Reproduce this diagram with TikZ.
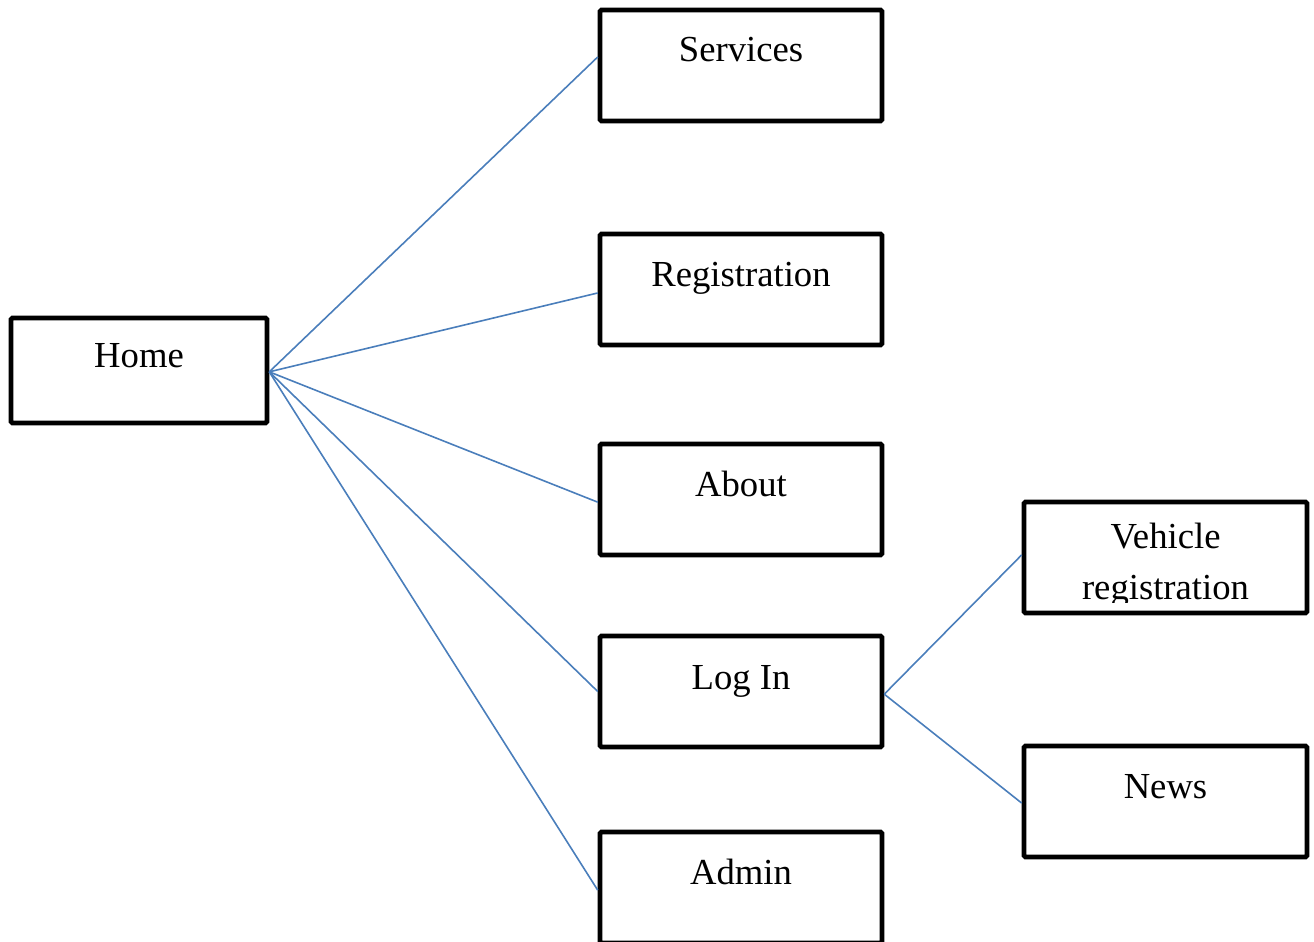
\documentclass[tikz,border=0pt]{standalone}
\usepackage{fontspec}
\setmainfont{Liberation Serif}
\definecolor{linkblue}{HTML}{4A7EBB}
\tikzset{
  box/.style={draw=black, line width=3.4pt, rounded corners=1pt, inner sep=0pt, minimum width=211.5pt, minimum height=83.25pt},
  homebox/.style={box, minimum width=192pt, minimum height=78.75pt},
  widebox/.style={box, minimum width=212.25pt},
  lbl/.style={anchor=base, inner sep=0pt, font=\fontsize{27.5}{33}\selectfont},
  link/.style={draw=linkblue, line width=1.2pt}
}
\begin{document}
\begin{tikzpicture}[x=0.75pt, y=-0.75pt]
\useasboundingbox (0,0) rectangle (1314,942);
% boxes
\node[homebox] (home) at (139,370.5) {};
\node[box] (services) at (741,65.5) {};
\node[box] (registration) at (741,289.5) {};
\node[box] (about) at (741,499.5) {};
\node[box] (login) at (741,691.5) {};
\node[box] (admin) at (741,887.5) {};
\node[widebox] (vehicle) at (1165.5,557.5) {};
\node[widebox] (news) at (1165.5,801.5) {};
% labels
\node[lbl] (home-t) at (139,367) {Home};
\node[lbl] (services-t) at (741,62) {Services};
\node[lbl] (registration-t) at (741,286) {Registration};
\node[lbl] (about-t) at (741,496) {About};
\node[lbl] (login-t) at (741,689) {Log In};
\node[lbl] (admin-t) at (741,884) {Admin};
\node[lbl] (vehicle-t) at (1165.5,548) {Vehicle};
\begin{scope}
  \clip (1026,504) rectangle (1305,602);
  \node[lbl] (vehicle-t2) at (1165.5,599) {registration};
\end{scope}
\node[lbl] (news-t) at (1165.5,798) {News};
% connectors
\coordinate (hub) at ([yshift=-1pt]home.east);
\draw[link] (hub) -- ([yshift=6.4pt]services.west);
\draw[link] (hub) -- ([yshift=-2.6pt]registration.west);
\draw[link] (hub) -- ([yshift=-2pt]about.west);
\draw[link] (hub) -- (login.west);
\draw[link] (hub) -- ([yshift=-2pt]admin.west);
\coordinate (lhub) at ([yshift=-2pt]login.east);
\draw[link] (lhub) -- ([yshift=2pt]vehicle.west);
\draw[link] (lhub) -- ([yshift=-1.2pt]news.west);
\end{tikzpicture}
\end{document}
